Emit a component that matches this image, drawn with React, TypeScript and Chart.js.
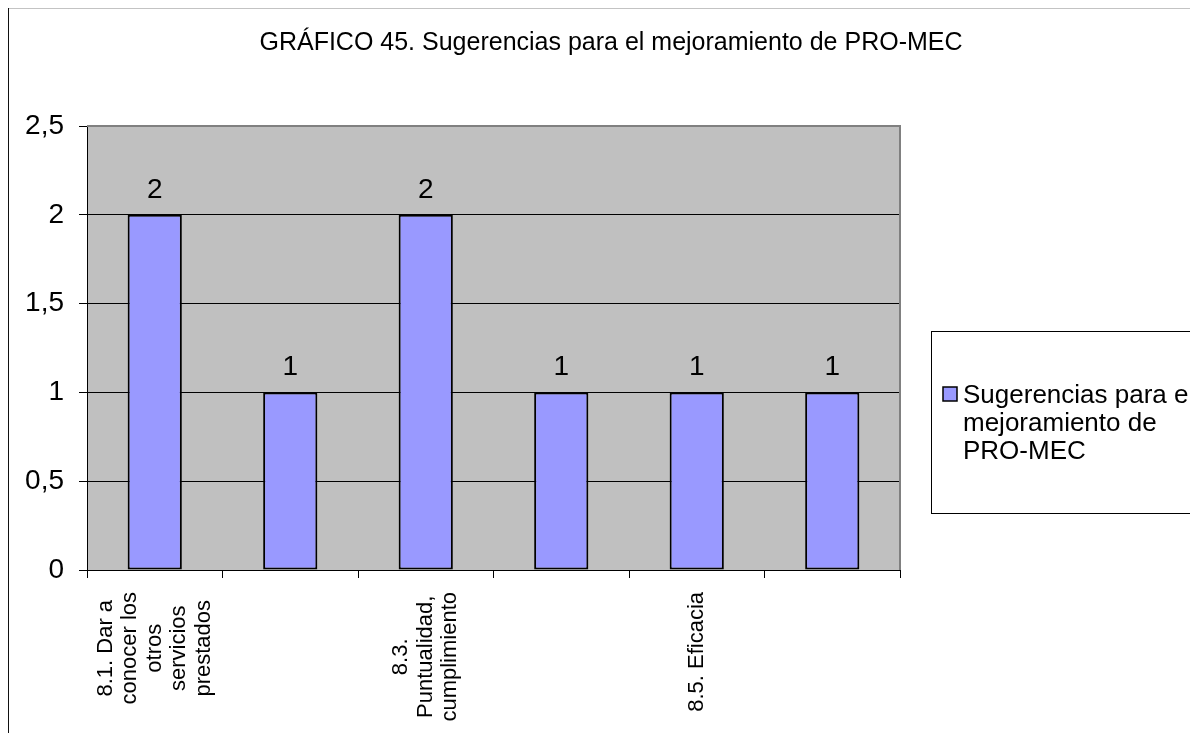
import React, { useEffect, useRef } from "react";
import { Chart, registerables } from "chart.js";

Chart.register(...registerables);

const TITLE = "GRÁFICO 45. Sugerencias para el mejoramiento de PRO-MEC";
const SERIES_NAME = "Sugerencias para el mejoramiento de PRO-MEC";
const LEGEND_LINES = ["Sugerencias para el", "mejoramiento de", "PRO-MEC"];
const CATEGORIES: string[][] = [
  ["8.1. Dar a", "conocer los", "otros", "servicios", "prestados"],
  ["8.2."],
  ["8.3.", "Puntualidad,", "cumplimiento"],
  ["8.4."],
  ["8.5. Eficacia"],
  ["8.6."],
];
const VALUES = [2, 1, 2, 1, 1, 1];
const Y_MIN = 0;
const Y_MAX = 2.5;
const Y_STEP = 0.5;
const LABEL_EVERY = 2;

const W = 1192;
const H = 726;
const FONT = "'Liberation Sans', Arial, Helvetica, sans-serif";
const BAR_COLOR = "#9999FF";
const PLOT_BG = "#C0C0C0";

const excelPlugin = {
  id: "excelLook",
  beforeDraw(chart: any) {
    const { ctx, chartArea: a } = chart;
    ctx.save();
    ctx.fillStyle = "#ffffff";
    ctx.fillRect(0, 0, chart.width, chart.height);
    ctx.fillStyle = PLOT_BG;
    ctx.fillRect(a.left, a.top, a.right - a.left, a.bottom - a.top);
    ctx.restore();
  },
  afterDatasetsDraw(chart: any) {
    const { ctx, chartArea: a } = chart;
    ctx.save();
    ctx.strokeStyle = "#808080";
    ctx.lineWidth = 2;
    ctx.beginPath();
    ctx.moveTo(a.left, a.top);
    ctx.lineTo(a.right, a.top);
    ctx.lineTo(a.right, a.bottom);
    ctx.stroke();
    const meta = chart.getDatasetMeta(0);
    ctx.fillStyle = "#000";
    ctx.font = `28px ${FONT}`;
    ctx.textAlign = "center";
    ctx.textBaseline = "alphabetic";
    meta.data.forEach((bar: any, i: number) => {
      ctx.fillText(String(VALUES[i]).replace(".", ","), bar.x, bar.y - 17);
    });
    ctx.restore();
  },
  afterDraw(chart: any) {
    const { ctx, chartArea: a } = chart;
    ctx.save();
    ctx.fillStyle = "#000";
    ctx.font = `25px ${FONT}`;
    ctx.textAlign = "center";
    ctx.textBaseline = "alphabetic";
    ctx.fillText(TITLE, 605, 43);

    const xs = chart.scales.x;
    ctx.font = `22px ${FONT}`;
    const lh = 24.5;
    CATEGORIES.forEach((lines, i) => {
      if (i % LABEL_EVERY !== 0) return;
      const cx = xs.getPixelForValue(i);
      const maxW = Math.max(...lines.map((l) => ctx.measureText(l).width));
      const top = a.bottom + 22;
      ctx.save();
      ctx.translate(cx, top + maxW / 2);
      ctx.rotate(-Math.PI / 2);
      ctx.textAlign = "center";
      ctx.textBaseline = "middle";
      lines.forEach((l, j) => {
        ctx.fillText(l, 0, (j - (lines.length - 1) / 2) * lh);
      });
      ctx.restore();
    });

    ctx.strokeStyle = "#000";
    ctx.lineWidth = 1;
    ctx.strokeRect(925.5, 324.5, 400, 182);
    ctx.fillStyle = BAR_COLOR;
    ctx.fillRect(937, 380, 14, 14);
    ctx.lineWidth = 1.5;
    ctx.strokeRect(937, 380, 14, 14);
    ctx.fillStyle = "#000";
    ctx.font = `26px ${FONT}`;
    ctx.textAlign = "left";
    ctx.textBaseline = "alphabetic";
    LEGEND_LINES.forEach((l, j) => {
      ctx.fillText(l, 957, 396 + j * 28);
    });

    ctx.fillStyle = "#888";
    ctx.fillRect(0, 0, W, 1.5);
    ctx.fillStyle = "#111";
    ctx.fillRect(0, 0, 3, H);
    ctx.restore();
  },
};

export default function App() {
  const ref = useRef<HTMLCanvasElement | null>(null);

  useEffect(() => {
    if (!ref.current) return;
    const chart = new Chart(ref.current, {
      type: "bar",
      data: {
        labels: CATEGORIES,
        datasets: [
          {
            label: SERIES_NAME,
            data: VALUES,
            backgroundColor: BAR_COLOR,
            borderColor: "#000",
            borderWidth: 2,
            borderSkipped: false,
            categoryPercentage: 0.8,
            barPercentage: 0.5,
          },
        ],
      },
      options: {
        animation: false,
        responsive: false,
        devicePixelRatio: 1,
        layout: { padding: { left: 0, top: 119, right: W - 894, bottom: 0 } },
        plugins: {
          legend: { display: false },
          title: { display: false },
          tooltip: { enabled: false },
        },
        scales: {
          x: {
            afterFit: (s: any) => {
              s.height = H - 563;
            },
            ticks: { display: false },
            grid: {
              offset: true,
              drawOnChartArea: false,
              drawTicks: true,
              tickLength: 8,
              tickColor: "#000",
              color: "#000",
            },
            border: { display: true, color: "#000", width: 1 },
          },
          y: {
            min: Y_MIN,
            max: Y_MAX,
            afterFit: (s: any) => {
              s.width = 81;
            },
            ticks: {
              stepSize: Y_STEP,
              color: "#000",
              padding: 15,
              font: { family: FONT, size: 28 },
              callback: (v: any) => String(v).replace(".", ","),
            },
            grid: {
              color: "#000",
              lineWidth: 1,
              tickLength: 8,
              tickColor: "#000",
            },
            border: { display: true, color: "#000", width: 1 },
          },
        },
      },
      plugins: [excelPlugin],
    });
    return () => chart.destroy();
  }, []);

  return (
    <div style={{ margin: "-1px 0 0 -2px", width: W, height: H }}>
      <canvas ref={ref} width={W} height={H} style={{ display: "block", width: W, height: H }} />
    </div>
  );
}
